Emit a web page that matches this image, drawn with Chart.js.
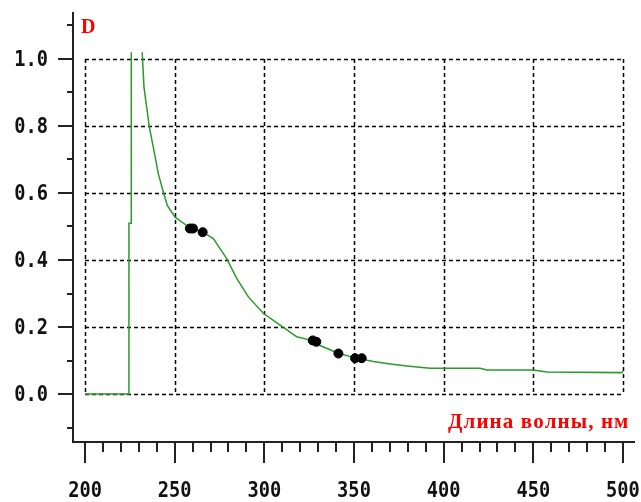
<!DOCTYPE html>
<html>
<head>
<meta charset="utf-8">
<script src="https://cdn.jsdelivr.net/npm/chart.js@4.4.0/dist/chart.umd.min.js"></script>
<style>
    html, body { margin: 0; padding: 0; background: #fff; }
    canvas { display: block; }
</style>
</head>
<body>
<canvas id="spectrumChart" width="641" height="502"></canvas>
<script>
// Absorption spectrum: wavelength (nm) vs optical density D
const wavelengths = [200, 224.5, 224.5, 225.8, 225.8, 228.5,
    231.9, 232.9, 234.4, 235.9, 238.1, 240.9, 243.7, 245.9, 250.2, 256.7,
    259.1, 265.6, 271.6, 275.3, 279.0, 284.6, 291.1, 299.4, 308.8, 318.1,
    325.5, 331.0, 341.3, 350.6, 360.8, 370.2, 379.5, 392.4, 420.3, 424.0,
    450.0, 457.5, 499.3, 500];
const density = [0, 0, 0.51, 0.51, 1.02, null,
    1.02, 0.915, 0.855, 0.796, 0.736, 0.657, 0.602, 0.563, 0.528, 0.503,
    0.494, 0.483, 0.464, 0.434, 0.404, 0.345, 0.290, 0.241, 0.206, 0.171,
    0.161, 0.145, 0.122, 0.108, 0.097, 0.090, 0.084, 0.077, 0.077, 0.072,
    0.072, 0.066, 0.064, 0.068];

// Marked points on the curve
const markerWavelengths = [258.5, 260.2, 265.6, 327.0, 329.0, 341.3, 350.6, 354.3];
const markerDensity = [0.494, 0.494, 0.483, 0.160, 0.156, 0.121, 0.107, 0.107];

// Axis ticks
const xTickLabels = ['200', '250', '300', '350', '400', '450', '500'];
const yTickLabels = ['0.0', '0.2', '0.4', '0.6', '0.8', '1.0'];
const xMinorStep = 10;
const yMinorStep = 0.1;

const xTickValues = xTickLabels.map(Number);
const yTickValues = yTickLabels.map(Number);

const curvePoints = wavelengths.map((w, i) => ({ x: w, y: density[i] }));
const markerPoints = markerWavelengths.map((w, i) => ({ x: w, y: markerDensity[i] }));

// narrow bold digits: draw a bigger font squeezed horizontally
function drawNarrowText(ctx, text, x, y, align) {
    const squeeze = 0.85;
    ctx.save();
    ctx.font = 'bold 22px "DejaVu Sans Mono"';
    ctx.textBaseline = 'middle';
    ctx.textAlign = 'left';
    const w = ctx.measureText(text).width * squeeze;
    let left = x;
    if (align === 'center') left = x - w / 2;
    if (align === 'right') left = x - w;
    ctx.translate(left, y);
    ctx.scale(squeeze, 1);
    ctx.fillText(text, 0, 0);
    ctx.restore();
}

// red serif text stretched with letter spacing to a given width
function drawSpacedText(ctx, text, right, baseline, width) {
    ctx.save();
    ctx.font = 'bold 21px "Liberation Serif"';
    ctx.textBaseline = 'alphabetic';
    ctx.textAlign = 'left';
    const plain = ctx.measureText(text).width;
    const gap = (width - plain) / (text.length - 1);
    let px = right - width;
    for (const ch of text) {
        ctx.fillText(ch, px, baseline);
        px += ctx.measureText(ch).width + gap;
    }
    ctx.restore();
}

// Draws the dashed grid box, axes, ticks and labels from the chart scales
const framePlugin = {
    id: 'frame',
    beforeDatasetsDraw(chart) {
        const { ctx, scales: { x, y } } = chart;
        const xFirst = x.getPixelForValue(xTickValues[0]);
        const xLast = x.getPixelForValue(xTickValues[xTickValues.length - 1]);
        const yBottom = y.getPixelForValue(yTickValues[0]);
        const yTop = y.getPixelForValue(yTickValues[yTickValues.length - 1]);

        ctx.save();
        ctx.strokeStyle = '#000';
        ctx.lineWidth = 1.5;
        ctx.setLineDash([4, 3]);
        xTickValues.forEach(v => {
            const px = Math.round(x.getPixelForValue(v)) + 0.5;
            ctx.beginPath();
            ctx.moveTo(px, yTop);
            ctx.lineTo(px, yBottom);
            ctx.stroke();
        });
        yTickValues.forEach(v => {
            const py = Math.round(y.getPixelForValue(v)) + 0.5;
            ctx.beginPath();
            ctx.moveTo(xFirst, py);
            ctx.lineTo(xLast, py);
            ctx.stroke();
        });
        ctx.restore();
    },
    afterDraw(chart) {
        const { ctx, chartArea: area, scales: { x, y } } = chart;
        ctx.save();
        ctx.strokeStyle = '#222';
        ctx.lineWidth = 2;

        // axis lines
        ctx.beginPath();
        ctx.moveTo(area.left, area.top);
        ctx.lineTo(area.left, area.bottom);
        ctx.lineTo(area.right, area.bottom);
        ctx.stroke();

        // x ticks (every 10 nm, long ones at labels)
        for (let v = xTickValues[0]; v <= xTickValues[xTickValues.length - 1] + 0.001; v += xMinorStep) {
            const px = Math.round(x.getPixelForValue(v));
            const major = xTickValues.some(t => Math.abs(t - v) < 0.001);
            ctx.beginPath();
            ctx.moveTo(px, area.bottom);
            ctx.lineTo(px, area.bottom + (major ? 21 : 10));
            ctx.stroke();
        }

        // y ticks (every 0.1 across the whole axis)
        const yStart = Math.ceil(y.min / yMinorStep) * yMinorStep;
        for (let v = yStart; v <= y.max; v += yMinorStep) {
            const py = Math.round(y.getPixelForValue(v));
            const major = yTickValues.some(t => Math.abs(t - v) < 0.001);
            ctx.beginPath();
            ctx.moveTo(area.left, py);
            ctx.lineTo(area.left - (major ? 15 : 6), py);
            ctx.stroke();
        }

        // tick labels
        ctx.fillStyle = '#111';
        xTickValues.forEach((v, i) => {
            drawNarrowText(ctx, xTickLabels[i], x.getPixelForValue(v), 491, 'center');
        });
        yTickValues.forEach((v, i) => {
            drawNarrowText(ctx, yTickLabels[i], 48, y.getPixelForValue(v) + 1, 'right');
        });

        // axis titles
        ctx.fillStyle = '#ff0000';
        ctx.font = 'bold 20px "Liberation Serif"';
        ctx.textAlign = 'left';
        ctx.textBaseline = 'alphabetic';
        ctx.fillText('D', 81, 33);
        drawSpacedText(ctx, 'Длина волны, нм', 628, 428, 180);
        ctx.restore();
    }
};

new Chart(document.getElementById('spectrumChart'), {
    type: 'line',
    data: {
        datasets: [{
            label: 'D',
            data: curvePoints,
            borderColor: '#2a9a2a',
            borderWidth: 1.5,
            pointRadius: 0,
            tension: 0,
            spanGaps: false,
            fill: false,
            order: 2
        }, {
            type: 'scatter',
            label: 'markers',
            data: markerPoints,
            backgroundColor: '#000',
            borderColor: '#000',
            pointRadius: 4.5,
            order: 1
        }]
    },
    options: {
        responsive: false,
        animation: false,
        layout: {
            padding: { left: 73, right: 6, top: 12, bottom: 60 }
        },
        plugins: {
            legend: { display: false },
            tooltip: { enabled: false }
        },
        scales: {
            x: {
                type: 'linear',
                min: 193.3,
                max: 506.7,
                display: false
            },
            y: {
                min: -0.143,
                max: 1.14,
                display: false
            }
        }
    },
    plugins: [framePlugin]
});
</script>
</body>
</html>
